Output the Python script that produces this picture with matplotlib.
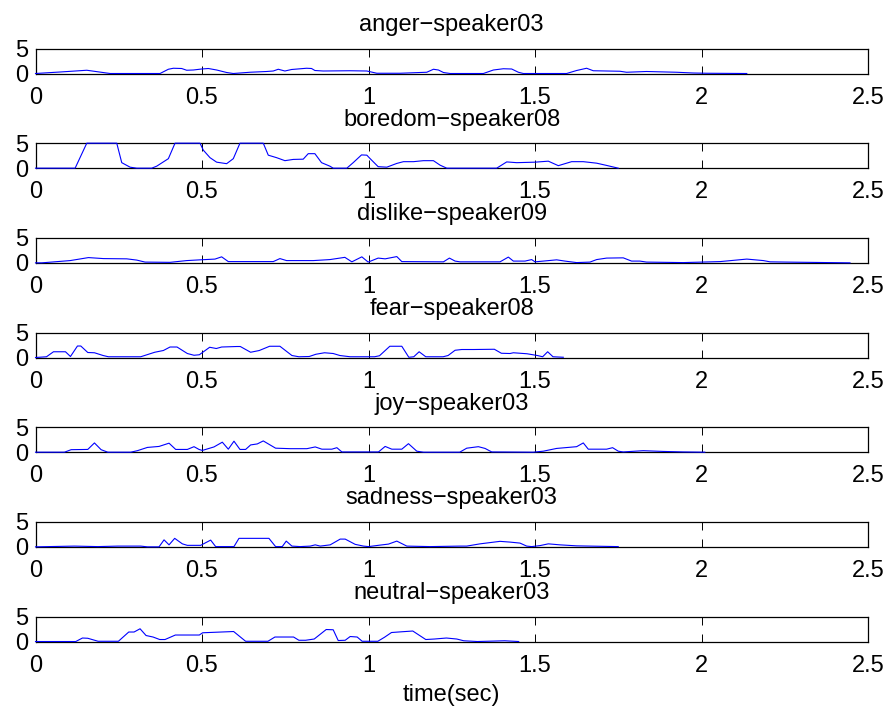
import matplotlib
matplotlib.use("Agg")
import matplotlib.pyplot as plt
import numpy as np

plt.rcParams["font.family"] = ["Liberation Sans", "DejaVu Sans"]

# (time in seconds, score) per utterance
anger = [
    (0.000, 0.0), (0.074, 0.3), (0.154, 0.65), (0.224, 0.0), (0.374, 0.0), (0.399, 0.85),
    (0.414, 1.05), (0.439, 1.0), (0.454, 0.65), (0.474, 0.7), (0.499, 0.9), (0.519, 1.0),
    (0.544, 0.7), (0.574, 0.2), (0.594, 0.0), (0.644, 0.25), (0.694, 0.4), (0.714, 0.5),
    (0.729, 0.85), (0.749, 0.5), (0.769, 0.8), (0.814, 1.05), (0.829, 1.0), (0.839, 0.6),
    (0.864, 0.5), (0.944, 0.55), (0.995, 0.5), (1.025, 0.05), (1.095, 0.05), (1.175, 0.25),
    (1.195, 0.85), (1.210, 0.7), (1.225, 0.2), (1.245, 0.0), (1.345, 0.0), (1.375, 0.7),
    (1.405, 0.95), (1.430, 0.9), (1.450, 0.25), (1.465, 0.0), (1.595, 0.0), (1.625, 0.6),
    (1.655, 1.05), (1.675, 0.55), (1.755, 0.45), (1.775, 0.25), (1.835, 0.4), (1.865, 0.35),
    (1.925, 0.25), (1.975, 0.1), (2.015, 0.05), (2.136, 0.0),
]
boredom = [
    (0.000, 0.0), (0.119, 0.0), (0.154, 5.0), (0.244, 5.0), (0.259, 1.1), (0.284, 0.2),
    (0.304, 0.0), (0.349, 0.0), (0.364, 0.4), (0.399, 1.9), (0.419, 5.0), (0.494, 5.0),
    (0.504, 3.6), (0.524, 2.1), (0.544, 1.2), (0.574, 0.9), (0.594, 1.9), (0.614, 5.0),
    (0.684, 5.0), (0.699, 2.6), (0.724, 2.1), (0.749, 1.5), (0.774, 1.75), (0.804, 1.8),
    (0.819, 2.9), (0.839, 2.9), (0.859, 1.1), (0.884, 0.4), (0.894, 0.0), (0.935, 0.0),
    (0.954, 1.1), (0.979, 2.65), (0.995, 2.6), (1.005, 1.9), (1.029, 0.3), (1.055, 0.2),
    (1.085, 0.95), (1.105, 1.3), (1.135, 1.3), (1.165, 1.5), (1.195, 1.5), (1.215, 0.6),
    (1.235, 0.0), (1.385, 0.0), (1.415, 1.25), (1.445, 1.1), (1.500, 1.2), (1.540, 1.4),
    (1.570, 0.5), (1.610, 1.3), (1.645, 1.3), (1.685, 1.0), (1.715, 0.55), (1.750, 0.0),
]
dislike = [
    (0.000, 0.0), (0.019, 0.0), (0.104, 0.45), (0.159, 1.05), (0.204, 0.85), (0.274, 0.8),
    (0.304, 0.55), (0.329, 0.15), (0.404, 0.1), (0.454, 0.45), (0.494, 0.6), (0.539, 0.75),
    (0.559, 1.2), (0.579, 0.25), (0.714, 0.25), (0.734, 0.85), (0.754, 0.45), (0.834, 0.45),
    (0.884, 0.65), (0.929, 1.1), (0.950, 0.2), (0.980, 1.2), (0.999, 0.15), (1.029, 0.95),
    (1.050, 0.8), (1.085, 1.25), (1.100, 0.25), (1.225, 0.2), (1.243, 0.95), (1.260, 0.35),
    (1.275, 0.2), (1.395, 0.2), (1.420, 1.15), (1.435, 0.35), (1.470, 0.35), (1.490, 0.65),
    (1.500, 0.2), (1.525, 0.35), (1.565, 0.6), (1.590, 0.35), (1.625, 0.05), (1.665, 0.15),
    (1.685, 0.65), (1.715, 0.95), (1.765, 1.0), (1.790, 0.35), (1.815, 0.35), (1.835, 0.15),
    (1.945, 0.05), (2.056, 0.25), (2.136, 0.75), (2.186, 0.45), (2.206, 0.2), (2.256, 0.15),
    (2.446, 0.0),
]
fear = [
    (0.000, 0.0), (0.033, 0.15), (0.054, 1.15), (0.090, 1.15), (0.105, 0.2), (0.126, 2.3),
    (0.136, 2.3), (0.157, 1.0), (0.177, 0.95), (0.203, 0.4), (0.219, 0.15), (0.316, 0.15),
    (0.358, 1.05), (0.384, 1.4), (0.404, 2.1), (0.425, 2.1), (0.456, 0.8), (0.476, 0.45),
    (0.492, 0.55), (0.523, 2.05), (0.543, 1.8), (0.559, 2.1), (0.605, 2.2), (0.615, 2.2),
    (0.646, 1.05), (0.672, 1.4), (0.703, 2.25), (0.734, 2.25), (0.770, 0.4), (0.791, 0.15),
    (0.822, 0.2), (0.842, 0.65), (0.868, 0.95), (0.894, 0.8), (0.914, 0.4), (0.945, 0.15),
    (1.018, 0.15), (1.033, 0.35), (1.064, 2.25), (1.100, 2.25), (1.121, 0.05), (1.136, 0.15),
    (1.152, 1.15), (1.172, 0.15), (1.224, 0.15), (1.239, 0.4), (1.260, 1.45), (1.280, 1.6),
    (1.316, 1.6), (1.378, 1.65), (1.399, 0.85), (1.425, 0.8), (1.435, 0.95), (1.476, 0.75),
    (1.507, 0.4), (1.523, 0.15), (1.538, 1.15), (1.554, 0.15), (1.585, 0.05),
]
joy = [
    (0.000, 0.0), (0.087, 0.0), (0.107, 0.5), (0.157, 0.55), (0.177, 1.85), (0.197, 0.5),
    (0.217, 0.0), (0.286, 0.0), (0.306, 0.3), (0.336, 0.95), (0.371, 1.15), (0.401, 1.8),
    (0.421, 0.55), (0.456, 0.55), (0.476, 1.1), (0.491, 0.55), (0.501, 0.35), (0.536, 1.05),
    (0.561, 2.0), (0.579, 0.6), (0.596, 2.2), (0.614, 0.55), (0.631, 0.55), (0.646, 1.45),
    (0.666, 1.65), (0.684, 2.25), (0.721, 0.8), (0.765, 0.7), (0.815, 0.7), (0.840, 1.05),
    (0.860, 0.6), (0.890, 0.6), (0.905, 0.9), (0.920, 0.05), (0.985, 0.05), (1.030, 0.05),
    (1.050, 1.15), (1.070, 0.6), (1.100, 0.6), (1.120, 1.7), (1.145, 0.2), (1.165, 0.0),
    (1.274, 0.0), (1.295, 0.8), (1.330, 1.1), (1.350, 0.75), (1.370, 0.05), (1.495, 0.0),
    (1.525, 0.2), (1.565, 0.75), (1.625, 1.1), (1.645, 1.85), (1.660, 0.6), (1.715, 0.6),
    (1.733, 0.9), (1.750, 0.2), (1.765, 0.05), (1.825, 0.3), (1.885, 0.15), (1.945, 0.05),
    (2.010, 0.0),
]
sadness = [
    (0.000, 0.0), (0.117, 0.15), (0.187, 0.05), (0.247, 0.15), (0.316, 0.15), (0.336, 0.0),
    (0.371, 0.0), (0.386, 1.4), (0.401, 0.4), (0.418, 1.7), (0.441, 0.6), (0.456, 0.3),
    (0.496, 0.3), (0.526, 1.35), (0.541, 0.05), (0.596, 0.05), (0.611, 1.7), (0.701, 1.7),
    (0.721, 0.05), (0.741, 0.05), (0.753, 1.15), (0.770, 0.15), (0.795, 0.05), (0.825, 0.15),
    (0.840, 0.4), (0.855, 0.15), (0.885, 0.4), (0.915, 1.55), (0.930, 1.55), (0.960, 0.5),
    (0.985, 0.15), (1.000, 0.05), (1.035, 0.35), (1.060, 0.55), (1.085, 1.15), (1.115, 0.15),
    (1.185, 0.05), (1.274, 0.15), (1.295, 0.15), (1.335, 0.6), (1.395, 1.1), (1.425, 0.95),
    (1.455, 0.75), (1.475, 0.15), (1.490, 0.05), (1.515, 0.25), (1.540, 0.6), (1.575, 0.4),
    (1.625, 0.2), (1.665, 0.15), (1.750, 0.05),
]
neutral = [
    (0.000, 0.0), (0.121, 0.0), (0.141, 0.7), (0.157, 0.65), (0.188, 0.05), (0.249, 0.05),
    (0.280, 1.9), (0.296, 1.9), (0.314, 2.55), (0.332, 1.2), (0.353, 0.9), (0.373, 0.4),
    (0.389, 0.4), (0.420, 1.3), (0.492, 1.3), (0.502, 1.75), (0.595, 2.0), (0.631, 0.05),
    (0.698, 0.05), (0.719, 0.9), (0.775, 0.9), (0.791, 0.25), (0.811, 0.25), (0.837, 0.5),
    (0.873, 2.4), (0.894, 2.35), (0.909, 0.2), (0.930, 0.25), (0.945, 1.0), (0.966, 0.9),
    (0.981, 0.05), (1.028, 0.05), (1.048, 0.85), (1.069, 1.8), (1.100, 1.95), (1.133, 2.1),
    (1.172, 0.4), (1.198, 0.5), (1.234, 0.7), (1.265, 0.5), (1.286, 0.15), (1.327, 0.0),
    (1.409, 0.15), (1.451, 0.0),
]

titles = [
    "anger\u2212speaker03", "boredom\u2212speaker08", "dislike\u2212speaker09",
    "fear\u2212speaker08", "joy\u2212speaker03", "sadness\u2212speaker03",
    "neutral\u2212speaker03",
]
series = [anger, boredom, dislike, fear, joy, sadness, neutral]
xticks = [0, 0.5, 1, 1.5, 2, 2.5]
xticklabels = ["0", "0.5", "1", "1.5", "2", "2.5"]
yticks = [0, 5]

W, H = 889, 707
fig = plt.figure(figsize=(W / 100, H / 100), dpi=100)

left, right = 35.5, 868.0
ax_h = 25.0
first_top = 48.5
step = 94.67

for i, (name, pts) in enumerate(zip(titles, series)):
    top = first_top + i * step
    ax = fig.add_axes([left / W, 1 - (top + ax_h) / H, (right - left) / W, ax_h / H])
    data = np.array(pts)
    ax.plot(data[:, 0], data[:, 1], color="#0000ff", linewidth=0.8, zorder=3, clip_on=False)
    ax.set_xlim(0, 2.5)
    ax.set_ylim(0, 5)
    ax.set_xticks(xticks)
    ax.set_xticklabels(xticklabels)
    ax.set_yticks(yticks)
    # inward ticks on all four sides, long enough to read as marks top and bottom
    ax.tick_params(direction="in", top=True, right=True, length=5.8, width=0.7,
                   labelsize=17, colors="black")
    ax.tick_params(axis="x", pad=9.5)
    ax.tick_params(axis="y", pad=5.5)
    for sp in ax.spines.values():
        sp.set_linewidth(0.9)
        sp.set_color("black")
    ax.set_title(name, fontsize=17, pad=12.5)
    if i == len(titles) - 1:
        ax.set_xlabel("time(sec)", fontsize=17, labelpad=5)

fig.savefig("out.png", dpi=100)
